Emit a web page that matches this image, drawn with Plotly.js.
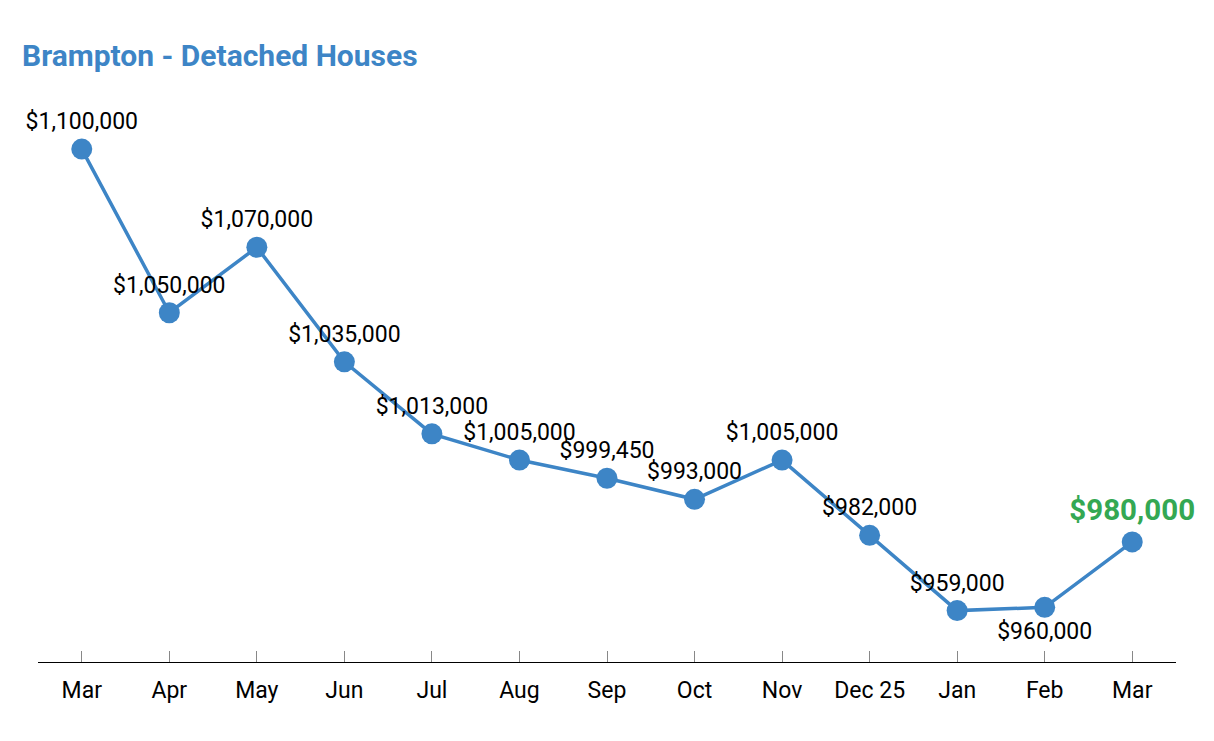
<!DOCTYPE html>
<html>
<head>
<meta charset="utf-8">
<script src="https://cdn.plot.ly/plotly-3.0.1.min.js"></script>
<style>html,body{margin:0;padding:0;background:#fff;}#chart{width:1214px;height:741px;}</style>
</head>
<body>
<div id="chart"></div>
<script>
const months = ["Mar", "Apr", "May", "Jun", "Jul", "Aug", "Sep", "Oct", "Nov", "Dec 25", "Jan", "Feb", "Mar"];
const prices = [1100000, 1050000, 1070000, 1035000, 1013000, 1005000, 999450, 993000, 1005000, 982000, 959000, 960000, 980000];

const idx = months.map((m, i) => i);
const last = prices.length - 1;
const labels = prices.map((v, i) => {
  const s = "$" + v.toLocaleString("en-US");
  return i === last ? "<b>" + s + "</b>" : s;
});
const positions = prices.map((v, i) => i === 11 ? "bottom center" : "top center");
const colors = prices.map((v, i) => i === last ? "#34a853" : "#000000");
const sizes = prices.map((v, i) => i === last ? 29.5 : 23);

const trace = {
  x: idx,
  y: prices,
  type: "scatter",
  mode: "lines+markers+text",
  line: {color: "#3d85c6", width: 3.5},
  marker: {color: "#3d85c6", size: 21},
  text: labels,
  textposition: positions,
  textfont: {family: "Roboto", color: colors, size: sizes},
  hoverinfo: "none",
  cliponaxis: false
};

const layout = {
  width: 1214,
  height: 741,
  margin: {l: 38, r: 38, t: 100, b: 79},
  paper_bgcolor: "#ffffff",
  plot_bgcolor: "#ffffff",
  showlegend: false,
  font: {family: "Roboto", color: "#000000"},
  title: {
    text: "<b>Brampton - Detached Houses</b>",
    font: {family: "Roboto", size: 30, color: "#3d85c6"},
    xref: "container", yref: "container",
    x: 22 / 1214, xanchor: "left",
    y: 1 - 55 / 741, yanchor: "middle"
  },
  xaxis: {
    range: [-0.5, 12.5],
    tickmode: "array",
    tickvals: idx,
    ticktext: months,
    showgrid: false,
    zeroline: false,
    showline: true,
    linecolor: "#000000",
    linewidth: 1.3,
    ticks: "inside",
    ticklen: 11,
    tickcolor: "#888888",
    tickwidth: 1,
    ticklabelstandoff: 7,
    tickfont: {family: "Roboto", size: 23, color: "#000000"},
    fixedrange: true
  },
  yaxis: {
    range: [943300, 1115000],
    visible: false,
    showgrid: false,
    zeroline: false,
    fixedrange: true
  }
};

Plotly.newPlot("chart", [trace], layout, {staticPlot: true, displayModeBar: false});
</script>
</body>
</html>
